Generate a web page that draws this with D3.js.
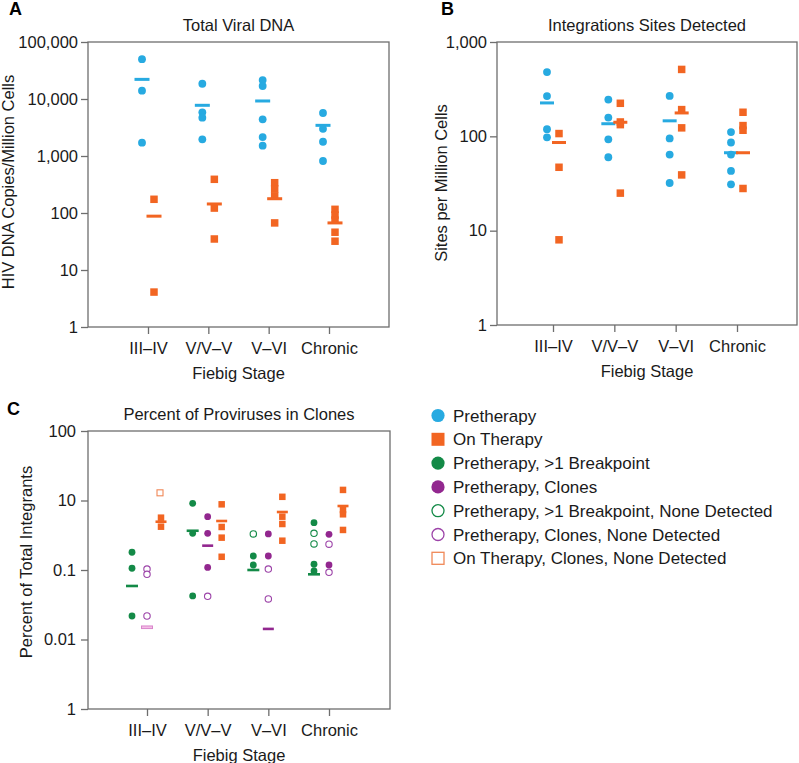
<!DOCTYPE html>
<html><head><meta charset="utf-8">
<script src="https://cdn.jsdelivr.net/npm/d3@7"></script>
<style>
body{margin:0;background:#fff}
svg{display:block}
text{font-family:"Liberation Sans",Arial,Helvetica,sans-serif;fill:#1a1a1a}
</style>
</head><body>
<svg id="c" width="799" height="763"></svg>
<script>
// ---------------- DATA ----------------
const stages = ["III\u2013IV", "V/V\u2013V", "V\u2013VI", "Chronic"];

// Panel A: Total Viral DNA (HIV DNA copies / million cells)
const aTicks = [1, 10, 100, 1000, 10000, 100000];
const aTickLabels = ["1", "10", "100", "1,000", "10,000", "100,000"];
const aPre = [[50000, 14000, 1710], [18500, 5830, 4700, 1960], [21500, 16900, 4400, 2150, 1520], [5680, 3000, 1780, 817]];
const aPreMed = [22100, 7750, 9230, 3450];
const aOn = [[174, 4.1], [390, 122, 35], [340, 265, 200, 67], [116, 92, 75, 46, 32]];
const aOnMed = [88, 144, 178, 67];

// Panel B: Integration sites detected (sites per million cells)
const bTicks = [1, 10, 100, 1000];
const bTickLabels = ["1", "10", "100", "1,000"];
const bPre = [[480, 267, 119, 97.5], [245, 158, 93, 60], [268, 95, 64, 32], [111, 86, 64, 43, 31]];
const bPreMed = [226, 136, 146, 67];
const bOn = [[107, 47, 8], [224, 142, 133, 25], [512, 192, 123, 39], [180, 130, 116, 28]];
const bOnMed = [86, 141, 177, 67];

// Panel C: Percent of proviruses in clones (tick labels as printed in the figure)
const cTicks = [100, 10, 1, 0.1, 0.01];
const cTickLabels = ["100", "10", "0.1", "0.01", "1"];
const cGreen = [[1.80, 1.06, 0.218], [9.12, 3.37, 0.423], [1.59, 1.18], [4.80, 1.21, 0.97]];
const cGreenOpen = [[], [], [3.30], [3.37, 2.37]];
const cGreenMed = [0.589, 3.67, 1.0, 0.867];
const cPurple = [[], [5.85, 3.37, 1.09], [3.30, 1.59], [3.26, 1.18]];
const cPurpleOpen = [[1.03, 0.867, 0.218], [0.418], [1.03, 0.383], [2.35, 0.927]];
const cPurpleMed = [0.150, 2.24, 0.142, null];
const cOn = [[5.66, 4.2], [8.81, 4.16, 2.92, 1.55], [11.3, 5.85, 4.59, 2.64], [14.2, 7.3, 6.33, 3.77]];
const cOnOpen = [[12.9], [], [], []];
const cOnMed = [4.95, 5.07, 6.83, 8.33];

const legendItems = [
  "Pretherapy",
  "On Therapy",
  "Pretherapy, >1 Breakpoint",
  "Pretherapy, Clones",
  "Pretherapy, >1 Breakpoint, None Detected",
  "Pretherapy, Clones, None Detected",
  "On Therapy, Clones, None Detected"
];

// ---------------- STYLE ----------------
const BLUE = "#27AAE1", ORANGE = "#F26522", GREEN = "#138A47", PURPLE = "#92278F";
const PINK_FILL = "#F5BDE6", PINK_STROKE = "#D886CB", ORANGE_OPEN = "#F08857";
const AX = "#6e6e6e";
const FF = "Liberation Sans, Arial, Helvetica, sans-serif";
const svg = d3.select("#c");

function flat(arr) {
  const out = [];
  arr.forEach((vals, i) => (vals || []).forEach(v => out.push({ s: stages[i], v })));
  return out;
}

function panel(cfg) {
  const x = d3.scalePoint().domain(stages).range(cfg.xRange);
  const y = d3.scaleLog().domain(cfg.yDomain).range([cfg.bottom, cfg.top]);
  const g = svg.append("g");

  const ya = g.append("g").attr("transform", `translate(${cfg.left},0)`)
    .call(d3.axisLeft(y).tickValues(cfg.ticks).tickFormat((d, i) => cfg.tickLabels[i]).tickSize(7).tickPadding(cfg.yPad));
  ya.select(".domain").remove();
  ya.attr("font-family", FF).attr("font-size", 16.5).attr("color", AX);
  ya.selectAll("line").attr("stroke-width", 1.3);
  ya.selectAll("text").style("fill", "#1a1a1a");

  const xa = g.append("g").attr("transform", `translate(0,${cfg.bottom})`)
    .call(d3.axisBottom(x).tickSize(7).tickPadding(8));
  xa.select(".domain").remove();
  xa.attr("font-family", FF).attr("font-size", 16.5).attr("color", AX);
  xa.selectAll("line").attr("stroke-width", 1.3);
  xa.selectAll("text").style("fill", "#1a1a1a");

  g.append("rect").attr("x", cfg.left).attr("y", cfg.top)
    .attr("width", cfg.right - cfg.left).attr("height", cfg.bottom - cfg.top)
    .attr("fill", "none").attr("stroke", AX).attr("stroke-width", 1.3);

  const cx = (cfg.left + cfg.right) / 2;
  g.append("text").attr("x", cx).attr("y", cfg.titleY).attr("text-anchor", "middle")
    .attr("font-size", 16.5).text(cfg.title);
  g.append("text").attr("x", cx).attr("y", cfg.bottom + 52).attr("text-anchor", "middle")
    .attr("font-size", 16.5).text("Fiebig Stage");
  g.append("text").attr("transform", `translate(${cfg.yTitleX},${cfg.yTitleY}) rotate(-90)`)
    .attr("text-anchor", "middle").attr("font-size", 16.5).text(cfg.yTitle);
  g.append("text").attr("x", cfg.letterX).attr("y", cfg.letterY)
    .attr("font-size", 18).attr("font-weight", "bold").style("fill", "#000").text(cfg.letter);

  return { x, y, g };
}

function circles(p, data, dx, r, color, open) {
  p.g.append("g").selectAll("circle").data(flat(data)).join("circle")
    .attr("cx", d => p.x(d.s) + dx).attr("cy", d => p.y(d.v)).attr("r", r)
    .attr("fill", open ? "#fff" : color).attr("stroke", open ? color : "none")
    .attr("stroke-width", open ? 1.1 : 0);
}
function squares(p, data, dx, s, color, open) {
  p.g.append("g").selectAll("rect").data(flat(data)).join("rect")
    .attr("x", d => p.x(d.s) + dx - s / 2).attr("y", d => p.y(d.v) - s / 2)
    .attr("width", s).attr("height", s)
    .attr("fill", open ? "#fff" : color).attr("stroke", open ? color : "none")
    .attr("stroke-width", open ? 1.1 : 0);
}
function medians(p, meds, dx, w, h, color, hollowIdx) {
  const d = stages.map((s, i) => ({ s, v: meds[i], i })).filter(e => e.v != null);
  p.g.append("g").selectAll("rect").data(d).join("rect")
    .attr("x", e => p.x(e.s) + dx - w / 2).attr("y", e => p.y(e.v) - h / 2)
    .attr("width", w).attr("height", h)
    .attr("fill", e => (hollowIdx && hollowIdx(e.i)) ? PINK_FILL : color)
    .attr("stroke", e => (hollowIdx && hollowIdx(e.i)) ? PINK_STROKE : "none")
    .attr("stroke-width", 1);
}

// ---------------- PANEL A ----------------
const A = panel({
  left: 88, right: 389, top: 42, bottom: 327, xRange: [148, 329],
  yDomain: [1, 100000], ticks: aTicks, tickLabels: aTickLabels, yPad: 3,
  title: "Total Viral DNA", titleY: 31, yTitle: "HIV DNA Copies/Million Cells",
  yTitleX: 14, yTitleY: 182, letter: "A", letterX: 9, letterY: 15
});
circles(A, aPre, -6, 3.9, BLUE, false);
squares(A, aOn, 6, 7.5, ORANGE, false);
medians(A, aPreMed, -6, 15, 3, BLUE);
medians(A, aOnMed, 6, 15, 3, ORANGE);

// ---------------- PANEL B ----------------
const B = panel({
  left: 497, right: 797, top: 42, bottom: 325, xRange: [553, 737],
  yDomain: [1, 1000], ticks: bTicks, tickLabels: bTickLabels, yPad: 3,
  title: "Integrations Sites Detected", titleY: 31, yTitle: "Sites per Million Cells",
  yTitleX: 447, yTitleY: 183, letter: "B", letterX: 441, letterY: 15
});
circles(B, bPre, -6, 3.9, BLUE, false);
squares(B, bOn, 6, 7.5, ORANGE, false);
medians(B, bPreMed, -6, 14, 3, BLUE);
medians(B, bOnMed, 6, 14, 3, ORANGE);

// ---------------- PANEL C ----------------
const C = panel({
  left: 88, right: 390, top: 431, bottom: 709, xRange: [147, 329],
  yDomain: [0.01, 100], ticks: cTicks, tickLabels: cTickLabels, yPad: 5,
  title: "Percent of Proviruses in Clones", titleY: 420, yTitle: "Percent of Total Integrants",
  yTitleX: 32, yTitleY: 562, letter: "C", letterX: 7, letterY: 415
});
circles(C, cGreen, -15, 3.4, GREEN, false);
circles(C, cGreenOpen, -15, 3.2, GREEN, true);
circles(C, cPurple, 0, 3.4, PURPLE, false);
circles(C, cPurpleOpen, 0, 3.2, "#9C43A8", true);
squares(C, cOn, 14, 6.5, ORANGE, false);
squares(C, cOnOpen, 13, 6, ORANGE_OPEN, true);
medians(C, cGreenMed, -15, 12, 2.6, GREEN);
medians(C, cPurpleMed, 0, 11, 2.6, PURPLE, i => cPurple[i].length === 0);
medians(C, cOnMed, 14, 11, 2.6, ORANGE);

// ---------------- LEGEND ----------------
const legendMarks = [
  { shape: "circle", color: BLUE, open: false },
  { shape: "square", color: ORANGE, open: false },
  { shape: "circle", color: GREEN, open: false },
  { shape: "circle", color: PURPLE, open: false },
  { shape: "circle", color: GREEN, open: true },
  { shape: "circle", color: "#9C43A8", open: true },
  { shape: "square", color: ORANGE_OPEN, open: true }
];
const lg = svg.append("g").attr("transform", "translate(438,415.5)");
const rows = lg.selectAll("g").data(legendItems).join("g")
  .attr("transform", (d, i) => `translate(0,${i * 23.8})`);
rows.each(function (d, i) {
  const m = legendMarks[i], r = d3.select(this);
  if (m.shape === "circle") {
    r.append("circle").attr("r", m.open ? 6 : 6.6)
      .attr("fill", m.open ? "#fff" : m.color).attr("stroke", m.open ? m.color : "none").attr("stroke-width", 1.3);
  } else {
    const s = m.open ? 12 : 13;
    r.append("rect").attr("x", -s / 2).attr("y", -s / 2).attr("width", s).attr("height", s)
      .attr("fill", m.open ? "#fff" : m.color).attr("stroke", m.open ? m.color : "none").attr("stroke-width", 1.3);
  }
  r.append("text").attr("x", 15).attr("y", 6).attr("font-size", 17).text(d);
});
</script>
</body></html>
